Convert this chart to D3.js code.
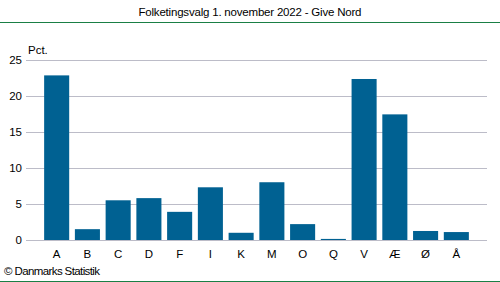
<!DOCTYPE html>
<html>
<head>
<meta charset="utf-8">
<script src="https://cdn.jsdelivr.net/npm/d3@7"></script>
<style>
  body { margin: 0; background: #fff; }
  svg { display: block; font-family: "Liberation Sans", Arial, sans-serif; }
</style>
</head>
<body>
<div id="chart"></div>
<script>
const parties = ['A', 'B', 'C', 'D', 'F', 'I', 'K', 'M', 'O', 'Q', 'V', 'Æ', 'Ø', 'Å'];
const shares = [22.8, 1.5, 5.5, 5.8, 3.9, 7.3, 1.0, 8.0, 2.2, 0.15, 22.3, 17.4, 1.25, 1.1];
const yTicks = [0, 5, 10, 15, 20, 25];

const width = 500, height = 282;
const fontSize = 11.5;
const svg = d3.select('#chart').append('svg')
  .attr('width', width)
  .attr('height', height);

const x = d3.scaleBand()
  .domain(parties)
  .range([26, 487])
  .paddingInner(0.185)
  .paddingOuter(0.59);

const y = d3.scaleLinear()
  .domain([0, 25])
  .range([240, 59.5]);

// title + frame lines
svg.append('text')
  .attr('x', 250).attr('y', 16)
  .attr('text-anchor', 'middle')
  .attr('font-size', fontSize)
  .attr('textLength', 223)
  .attr('fill', '#000')
  .text('Folketingsvalg 1. november 2022 - Give Nord');

svg.append('line')
  .attr('x1', 0).attr('x2', width)
  .attr('y1', 22.5).attr('y2', 22.5)
  .attr('stroke', '#1a7f45').attr('stroke-width', 1);

svg.append('line')
  .attr('x1', 0).attr('x2', width)
  .attr('y1', 281.5).attr('y2', 281.5)
  .attr('stroke', '#1a7f45').attr('stroke-width', 1);

// gridlines
svg.append('g')
  .selectAll('line')
  .data(yTicks)
  .join('line')
  .attr('x1', 26).attr('x2', 487)
  .attr('y1', d => Math.round(y(d)) + 0.5)
  .attr('y2', d => Math.round(y(d)) + 0.5)
  .attr('stroke', '#bcbcc8')
  .attr('stroke-width', 1);

// y tick labels
svg.append('g')
  .selectAll('text')
  .data(yTicks)
  .join('text')
  .attr('x', 22)
  .attr('y', d => y(d) + 4)
  .attr('text-anchor', 'end')
  .attr('font-size', fontSize)
  .attr('fill', '#000')
  .text(d => d);

svg.append('text')
  .attr('x', 28).attr('y', 54)
  .attr('font-size', fontSize)
  .attr('fill', '#000')
  .text('Pct.');

// bars
svg.append('g')
  .selectAll('rect')
  .data(parties.map((p, i) => ({ p, v: shares[i] })))
  .join('rect')
  .attr('x', d => x(d.p))
  .attr('width', x.bandwidth())
  .attr('y', d => y(d.v))
  .attr('height', d => y(0) - y(d.v))
  .attr('fill', '#006192');

// x labels
svg.append('g')
  .selectAll('text')
  .data(parties)
  .join('text')
  .attr('x', d => x(d) + x.bandwidth() / 2)
  .attr('y', 258)
  .attr('text-anchor', 'middle')
  .attr('font-size', fontSize)
  .attr('fill', '#000')
  .text(d => d);

svg.append('text')
  .attr('x', 4).attr('y', 275)
  .attr('font-size', fontSize)
  .attr('textLength', 96)
  .attr('fill', '#000')
  .text('© Danmarks Statistik');
</script>
</body>
</html>
